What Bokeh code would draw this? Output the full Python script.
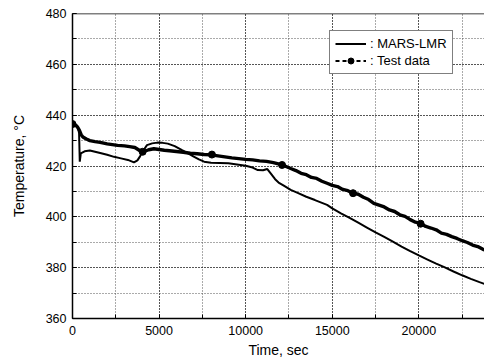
from bokeh.plotting import figure
from bokeh.models import (SingleIntervalTicker, Legend, LegendItem, Span, Range1d)
from bokeh.embed import file_html
from bokeh.resources import INLINE

# ---- data ----
mars_t = [0, 150, 300, 380, 420, 480, 700, 1000, 1300, 1600, 2000, 2400, 2800, 3200,
          3550, 3750, 3900, 4100, 4300, 4600, 4900, 5200, 5500, 5900, 6300, 6700, 7000,
          7300, 7600, 8000, 8500, 9000, 9500, 10000, 10400, 10700, 11000, 11250, 11500,
          11700, 11900, 12200, 12600, 13000, 13500, 14000, 14700, 15000, 15500, 16000,
          16500, 17000, 17500, 18000, 18500, 19000, 19500, 20000, 20500, 21000, 21500,
          22000, 22500, 23000, 23500, 23800]
mars_T = [436.8, 436.3, 435.5, 433.0, 421.7, 425.0, 425.8, 426.1, 425.6, 425.1, 424.4,
          423.6, 423.0, 422.4, 421.4, 422.2, 423.8, 426.2, 428.2, 428.9, 429.2, 429.1,
          428.8, 427.8, 426.3, 424.9, 423.7, 422.6, 421.7, 421.3, 421.2, 421.1, 420.6,
          420.1, 419.4, 418.4, 418.3, 418.8, 416.6, 414.8, 413.5, 412.3, 410.6, 409.4,
          407.9, 406.6, 404.7, 403.3, 401.4, 399.6, 397.7, 395.8, 393.9, 392.1, 390.2,
          388.3, 386.5, 384.8, 383.2, 381.6, 380.1, 378.5, 377.0, 375.6, 374.3, 373.6]

test_t = [0, 100, 200, 300, 400, 500, 600, 800, 1000, 1300, 1600, 2000, 2300, 2600, 3000,
          3300, 3600, 3900, 4100, 4400, 4700, 5000, 5300, 5600, 6000, 6400, 6800, 7200,
          7600, 8000, 8400, 8800, 9200, 9600, 10000, 10400, 10800, 11200, 11600, 12000,
          12300, 12600, 12900, 13200, 13500, 13800, 14100, 14400, 14700, 15000, 15300,
          15600, 15900, 16200, 16500, 16800, 17100, 17400, 17700, 18000, 18300, 18600,
          18900, 19200, 19500, 19800, 20100, 20400, 20700, 21000, 21300, 21600, 21900,
          22200, 22500, 22800, 23100, 23400, 23700, 23800]
test_T = [436.8, 436.3, 436.0, 435.2, 434.0, 432.3, 431.4, 430.6, 430.0, 429.6, 429.3,
          428.7, 428.4, 428.1, 427.9, 427.6, 427.3, 426.0, 425.6, 426.4, 426.8, 426.5,
          426.2, 426.0, 425.7, 425.4, 425.0, 424.8, 424.5, 424.4, 424.0, 423.6, 423.2,
          422.9, 422.6, 422.4, 422.0, 421.8, 421.3, 420.6, 419.9, 419.0, 418.2, 417.1,
          416.6, 415.5, 415.1, 414.0, 413.2, 412.4, 411.9, 410.8, 410.3, 409.3, 408.9,
          407.7, 406.8, 405.3, 404.6, 403.9, 402.7, 402.1, 400.8, 400.2, 398.9, 397.9,
          397.4, 396.2, 395.6, 394.9, 393.6, 393.1, 392.2, 391.5, 390.6, 389.9, 388.9,
          388.3, 387.2, 387.0]

mark_t = [0, 4050, 8050, 12100, 16200, 20100]
mark_T = [436.5, 425.6, 424.5, 420.4, 409.3, 397.3]

FONT = "Liberation Sans"

x_ticker = SingleIntervalTicker(interval=5000, num_minor_ticks=2)
y_ticker = SingleIntervalTicker(interval=20, num_minor_ticks=2)

p = figure(width=484, height=360, output_backend="svg", toolbar_location=None,
           x_range=Range1d(0, 23790), y_range=Range1d(360, 480),
           min_border_left=72, min_border_right=0, min_border_top=13,
           min_border_bottom=42)
p.outline_line_color = None
p.background_fill_color = "white"
p.border_fill_color = "white"

p.xaxis.ticker = x_ticker
p.yaxis.ticker = y_ticker
p.xgrid.ticker = x_ticker
p.ygrid.ticker = y_ticker

for ax in (p.xaxis[0], p.yaxis[0]):
    ax.axis_line_color = "black"
    ax.axis_line_width = 1.5
    ax.major_tick_in = 4
    ax.major_tick_out = 0
    ax.minor_tick_in = 4
    ax.minor_tick_out = 0
    ax.major_tick_line_color = "black"
    ax.minor_tick_line_color = "black"
    ax.major_label_text_font = FONT
    ax.major_label_text_font_size = "12.5px"
    ax.major_label_text_color = "black"
    ax.axis_label_text_font = FONT
    ax.axis_label_text_font_size = "14px"
    ax.axis_label_text_font_style = "normal"
    ax.axis_label_text_color = "black"

p.xaxis.axis_label = "Time, sec"
p.yaxis.axis_label = "Temperature, °C"
p.xaxis.major_label_standoff = 7
p.xaxis.axis_label_standoff = 4
p.yaxis.major_label_standoff = 6
p.yaxis.axis_label_standoff = 16

for g in (p.xgrid[0], p.ygrid[0]):
    g.grid_line_color = "black"
    g.grid_line_alpha = 1.0
    g.grid_line_dash = "1 2"
    g.grid_line_width = 1
    g.minor_grid_line_color = "#555555"
    g.minor_grid_line_alpha = 1.0
    g.minor_grid_line_dash = "1 2"
    g.minor_grid_line_width = 1

p.add_layout(Span(location=480, dimension="width", line_color="black", line_width=1.5))

mars_r = p.line(mars_t, mars_T, line_width=2, line_color="black")
test_r = p.line(test_t, test_T, line_width=3.4, line_color="black")
mark_r = p.scatter(mark_t, mark_T, size=7, fill_color="black", line_color="black")
# legend-only proxy (a single point draws nothing on the plot)
dash_r = p.line(test_t[:1], test_T[:1], line_width=2, line_dash="4 3", line_color="black")

legend = Legend(items=[LegendItem(label=": MARS-LMR", renderers=[mars_r]),
                       LegendItem(label=": Test data", renderers=[dash_r, mark_r])],
                location=(257, 244))
legend.label_text_font = FONT
legend.label_text_font_size = "13px"
legend.label_text_color = "black"
legend.glyph_width = 31
legend.glyph_height = 15
legend.label_standoff = 4
legend.padding = 5
legend.spacing = 2
legend.margin = 0
legend.border_line_color = "black"
legend.border_line_width = 1
legend.background_fill_color = "white"
legend.background_fill_alpha = 1
p.add_layout(legend)

open("out.html", "w").write(file_html(p, INLINE))
